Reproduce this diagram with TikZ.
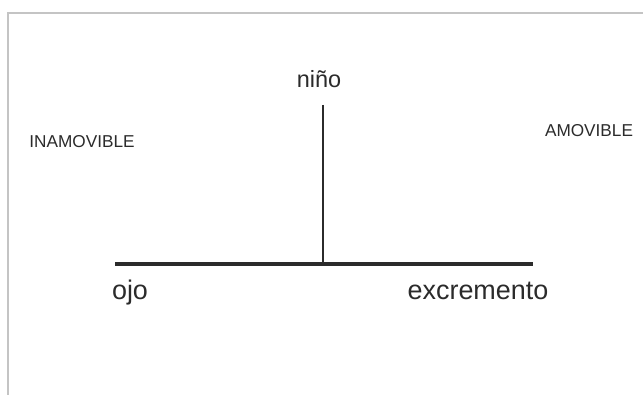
\documentclass[tikz,border=0pt]{standalone}
\usepackage{fontspec}
\setmainfont{Liberation Sans}
\usepackage{tikz}
\usetikzlibrary{positioning}
\definecolor{inkgray}{HTML}{2B2B2B}
\definecolor{framegray}{HTML}{C4C4C4}
\tikzstyle{frame}   = [line width=1.5pt, draw=framegray]
\tikzstyle{axis}    = [line width=2.3pt, draw=inkgray, line cap=butt]
\tikzstyle{stem}    = [line width=1.5pt, draw=inkgray]
\tikzstyle{bigword} = [anchor=base, inner sep=0pt, text=inkgray, font=\fontsize{20.2}{24}\selectfont]
\tikzstyle{midword} = [anchor=base, inner sep=0pt, text=inkgray, font=\fontsize{17.6}{21}\selectfont]
\tikzstyle{capword} = [anchor=base, inner sep=0pt, text=inkgray, font=\fontsize{12.9}{15}\selectfont]

\begin{document}
\begin{tikzpicture}[x=0.75pt,y=-0.75pt]
		\useasboundingbox (0,0) rectangle (643,395);
		\fill[white] (0,0) rectangle (643,395);

		% marco
		\draw[frame] (643,13) -- (8,13) -- (8,395);

		% ejes
		\coordinate (left)  at (115,264);
		\coordinate (right) at (533,264);
		\coordinate (top)   at (323,105);
		\coordinate (foot)  at (323,264);
		\draw[axis] (left) -- (right);
		\draw[stem] (top) -- (foot);

		% textos
		\node[midword] (nino)   at (319,88)  {niño};
		\node[capword] (inamov) at (82,148)  {INAMOVIBLE};
		\node[capword] (amov)   at (589,137) {AMOVIBLE};
		\node[bigword] (ojo)    at (130,300) {ojo};
		\node[bigword] (excr)   at (478,300) {excremento};
	\end{tikzpicture}
\end{document}
